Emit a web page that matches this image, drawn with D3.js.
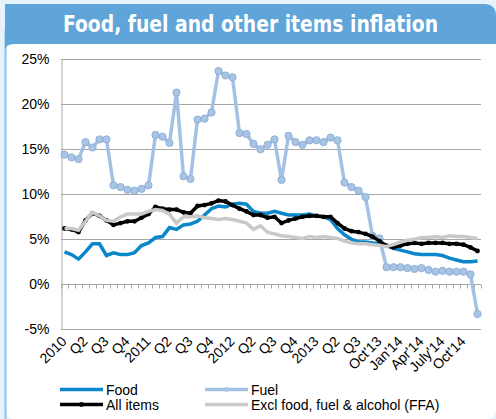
<!DOCTYPE html>
<html>
<head>
<meta charset="utf-8">
<script src="https://cdn.jsdelivr.net/npm/d3@7"></script>
<style>
  html, body { margin: 0; padding: 0; background: #e6f3fc; }
  svg { display: block; }
</style>
</head>
<body>
<div id="vis"></div>
<script>
// monthly, Jan 2010 .. Dec 2014 (annual % change)
const food = [3.6,3.3,2.8,3.6,4.5,4.5,3.2,3.5,3.3,3.3,3.5,4.3,
  4.6,5.2,5.3,6.3,6.1,6.6,6.7,7.0,7.7,8.4,8.7,8.6,
  8.9,9.0,8.9,8.1,7.9,7.9,8.1,7.9,7.7,7.7,7.7,7.8,
  7.6,7.5,7.2,6.2,5.5,5.0,4.7,4.7,4.6,4.5,4.3,4.0,
  3.8,3.6,3.4,3.3,3.3,3.3,3.2,2.9,2.7,2.5,2.5,2.6];
const fuel = [14.4,14.1,13.9,15.8,15.2,16.1,16.1,11.0,10.8,10.5,10.4,10.6,
  11.0,16.6,16.4,15.7,21.3,12.0,11.7,18.3,18.4,19.1,23.7,23.2,
  23.0,16.8,16.7,15.6,15.0,15.5,16.1,11.6,16.5,15.8,15.5,16.0,
  16.0,15.8,16.3,16.0,11.3,10.8,10.4,9.7,5.4,5.1,1.9,1.9,
  1.9,1.8,1.7,1.8,1.6,1.4,1.5,1.4,1.4,1.4,1.1,-3.3];
const allItems = [6.2,6.1,5.8,7.1,7.9,7.6,7.1,6.6,6.8,7.0,7.0,7.4,
  7.8,8.6,8.4,8.3,8.3,8.0,7.9,8.7,8.8,9.0,9.3,9.2,
  8.8,8.4,8.1,7.7,7.7,7.4,7.5,6.8,7.1,7.3,7.5,7.6,
  7.6,7.5,7.5,6.8,6.2,5.9,5.8,5.6,5.3,4.8,4.3,4.1,
  4.3,4.5,4.6,4.5,4.6,4.6,4.6,4.5,4.5,4.4,4.1,3.7];
const ffa = [6.2,6.2,6.0,7.0,8.0,7.6,7.1,7.0,7.5,7.8,7.8,7.8,
  8.1,8.3,8.2,7.8,6.8,7.5,7.5,7.6,7.4,7.3,7.2,7.3,
  7.2,7.0,6.8,6.1,6.5,5.8,5.6,5.4,5.3,5.2,5.1,5.3,
  5.2,5.3,5.2,5.1,4.8,4.6,4.5,4.5,4.4,4.3,4.2,4.4,
  4.7,4.9,5.0,5.2,5.2,5.3,5.2,5.4,5.3,5.3,5.2,5.1];
const quarterLabels = ["2010","Q2","Q3","Q4","2011","Q2","Q3","Q4","2012","Q2","Q3","Q4",
  "2013","Q2","Q3","Oct'13","Jan'14","Apr'14","July'14","Oct'14"];
const yTicks = [-5, 0, 5, 10, 15, 20, 25];

const W = 496, H = 419;
const plot = { left: 61, right: 481, top: 59.3, bottom: 329.3 };

const svg = d3.select("#vis").append("svg")
  .attr("width", W).attr("height", H);

// frame: light blue strip, white panel, title bar
svg.append("rect").attr("x", 0).attr("y", 0).attr("width", W).attr("height", H).attr("fill", "#e6f3fc");
svg.append("rect").attr("x", 6).attr("y", 30).attr("width", W - 6).attr("height", H - 30)
  .attr("rx", 8).attr("fill", "#fff");
svg.append("line").attr("x1", 5.5).attr("x2", 5.5).attr("y1", 30).attr("y2", H)
  .attr("stroke", "#8fc4ea").attr("stroke-width", 2);
svg.append("path")
  .attr("d", `M5,4 H${W - 12} Q${W},4 ${W},16 V44 H14 Q6,44 5,50 Z`)
  .attr("fill", "#5fa5da");
svg.append("text")
  .attr("x", 250.5).attr("y", 31.5)
  .attr("text-anchor", "middle")
  .attr("font-family", "'DejaVu Sans Condensed', 'DejaVu Sans', sans-serif")
  .attr("font-weight", "bold").attr("font-size", 23)
  .attr("fill", "#fff")
  .attr("textLength", 375).attr("lengthAdjust", "spacingAndGlyphs")
  .text("Food, fuel and other items inflation");

const months = d3.range(food.length);
const x = d3.scaleBand().domain(months).range([plot.left, plot.right]);
const cx = i => x(i) + x.bandwidth() / 2;
const y = d3.scaleLinear().domain([-5, 25]).range([plot.bottom, plot.top]);

const font = "'Liberation Sans', Arial, sans-serif";

// gridlines
svg.append("g").selectAll("line").data(yTicks).enter().append("line")
  .attr("x1", plot.left).attr("x2", plot.right)
  .attr("y1", d => Math.round(y(d)) + 0.5).attr("y2", d => Math.round(y(d)) + 0.5)
  .attr("stroke", "#a6a6a6").attr("stroke-width", 1);

// y axis
const yAxis = svg.append("g")
  .attr("transform", `translate(${plot.left + 0.5},0)`)
  .call(d3.axisLeft(y).tickValues(yTicks).tickSize(0).tickPadding(12).tickFormat(d => d + "%"));
yAxis.select(".domain").attr("stroke", "#a6a6a6");
yAxis.selectAll("text").attr("font-family", font).attr("font-size", 14).attr("fill", "#000");

// category axis at 0%
const y0 = Math.round(y(0)) + 0.5;
svg.append("g").selectAll("line").data(d3.range(food.length + 1)).enter().append("line")
  .attr("x1", d => Math.round(plot.left + d * x.step()) + 0.5)
  .attr("x2", d => Math.round(plot.left + d * x.step()) + 0.5)
  .attr("y1", y0).attr("y2", y0 + 4)
  .attr("stroke", "#a6a6a6");

// rotated quarter labels
svg.append("g").selectAll("text").data(quarterLabels).enter().append("text")
  .attr("transform", (d, i) => `translate(${cx(i * 3) + 3},${plot.bottom + 13}) rotate(-45)`)
  .attr("text-anchor", "end")
  .attr("font-family", font).attr("font-size", 14)
  .text(d => d);

// series
const line = d3.line().x((d, i) => cx(i)).y(d => y(d));

svg.append("path").datum(food).attr("d", line)
  .attr("fill", "none").attr("stroke", "#0a86cb").attr("stroke-width", 3.5);

svg.append("path").datum(fuel).attr("d", line)
  .attr("fill", "none").attr("stroke", "#a3c1e4").attr("stroke-width", 3.5);
svg.append("g").selectAll("circle").data(fuel).enter().append("circle")
  .attr("cx", (d, i) => cx(i)).attr("cy", d => y(d)).attr("r", 3.6)
  .attr("fill", "#a9c5e6").attr("stroke", "#90afd6").attr("stroke-width", 1);

svg.append("path").datum(allItems).attr("d", line)
  .attr("fill", "none").attr("stroke", "#000").attr("stroke-width", 3.5);
svg.append("g").selectAll("circle").data(allItems).enter().append("circle")
  .attr("cx", (d, i) => cx(i)).attr("cy", d => y(d)).attr("r", 2.4)
  .attr("fill", "#000");

svg.append("path").datum(ffa).attr("d", line)
  .attr("fill", "none").attr("stroke", "#c9c9c9").attr("stroke-width", 3.5);

// legend
const legend = [
  { name: "Food", color: "#0a86cb", marker: null, lx: 60, ly: 389.5 },
  { name: "Fuel", color: "#a3c1e4", marker: "#a9c5e6", lx: 205, ly: 389.5 },
  { name: "All items", color: "#000", marker: "#000", lx: 60, ly: 404.5 },
  { name: "Excl food, fuel & alcohol (FFA)", color: "#c9c9c9", marker: null, lx: 205, ly: 404.5 }
];
const lg = svg.append("g").selectAll("g").data(legend).enter().append("g");
lg.append("line")
  .attr("x1", d => d.lx).attr("x2", d => d.lx + 43)
  .attr("y1", d => d.ly).attr("y2", d => d.ly)
  .attr("stroke", d => d.color).attr("stroke-width", 3.5);
lg.filter(d => d.marker).append("circle")
  .attr("cx", d => d.lx + 21.5).attr("cy", d => d.ly).attr("r", 2.4)
  .attr("fill", d => d.marker);
lg.append("text")
  .attr("x", d => d.lx + 46).attr("y", d => d.ly + 5)
  .attr("font-family", font).attr("font-size", 14)
  .text(d => d.name);
</script>
</body>
</html>
